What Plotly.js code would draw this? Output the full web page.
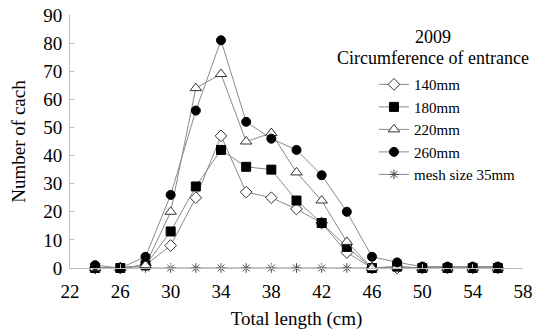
<!DOCTYPE html>
<html>
<head>
<meta charset="utf-8">
<script src="https://cdn.plot.ly/plotly-3.0.1.min.js"></script>
<style>html,body{margin:0;padding:0;background:#fff;}#chart{width:543px;height:333px;}</style>
</head>
<body>
<div id="chart"></div>
<script>
var lengths = [24, 26, 28, 30, 32, 34, 36, 38, 40, 42, 44, 46, 48, 50, 52, 54, 56];
var c140 = [0, 0, 1, 8, 25, 47, 27, 25, 21, 16, 5.5, 0, 0, 0, 0, 0, 0];
var c180 = [0, 0, 1, 13, 29, 42, 36, 35, 24, 16, 7.5, 0, 0.5, 0, 0, 0, 0];
var c220 = [0, 0, 1, 20, 64, 69, 45, 48, 34, 24, 9.3, 0, 0.5, 0, 0, 0, 0];
var c260 = [1, 0, 4, 26, 56, 81, 52, 46, 42, 33, 20, 4, 2, 0.5, 0.5, 0.5, 0.5];
var mesh35 = [0, 0, 0, 0, 0, 0, 0, 0, 0, 0, 0, 0, 0, 0, 0, 0, 0];
var seriesNames = ["140mm", "180mm", "220mm", "260mm", "mesh size 35mm"];
var xTicks = [22, 26, 30, 34, 38, 42, 46, 50, 54, 58];
var yTicks = [0, 10, 20, 30, 40, 50, 60, 70, 80, 90];

var FONT = "Liberation Serif";
var lineGray = "#8a8a8a";

function tr(y, name, rank, marker) {
  return {
    x: lengths, y: y, name: name, type: "scatter", mode: "lines+markers",
    legendrank: rank, cliponaxis: false,
    line: {color: lineGray, width: 1},
    marker: marker
  };
}

var data = [
  tr(mesh35, seriesNames[4], 5, {symbol: "asterisk-open", size: 8, color: "#444", line: {color: "#444", width: 1}}),
  tr(c140, seriesNames[0], 1, {symbol: "diamond", size: 9, color: "#fff", line: {color: "#333", width: 1}}),
  tr(c180, seriesNames[1], 2, {symbol: "square", size: 9, color: "#000", line: {color: "#000", width: 1}}),
  tr(c220, seriesNames[2], 3, {symbol: "triangle-up", size: 10, color: "#fff", line: {color: "#333", width: 1}}),
  tr(c260, seriesNames[3], 4, {symbol: "circle", size: 9, color: "#000", line: {color: "#000", width: 1}})
];

var layout = {
  width: 543, height: 333,
  margin: {l: 70, r: 20, t: 15, b: 65},
  paper_bgcolor: "#fff", plot_bgcolor: "#fff",
  font: {family: FONT, size: 18, color: "#000"},
  showlegend: true,
  legend: {
    x: 0.671, y: 0.79, xanchor: "left", yanchor: "top",
    font: {family: FONT, size: 15, color: "#000"},
    bgcolor: "rgba(0,0,0,0)", borderwidth: 0,
    tracegroupgap: 0
  },
  xaxis: {
    range: [22, 58], tickvals: xTicks, ticktext: xTicks.map(String),
    showgrid: false, zeroline: false,
    showline: true, linecolor: "#bdbdbd", linewidth: 1,
    ticks: "inside", ticklen: 4, tickcolor: "#bdbdbd",
    ticklabelstandoff: 6,
    tickfont: {family: FONT, size: 19, color: "#000"},
    title: {text: "Total length (cm)", font: {family: FONT, size: 19}, standoff: 10}
  },
  yaxis: {
    range: [0, 90], tickvals: yTicks, ticktext: yTicks.map(String),
    showgrid: false, zeroline: false,
    showline: true, linecolor: "#bdbdbd", linewidth: 1,
    ticks: "inside", ticklen: 4, tickcolor: "#bdbdbd",
    ticklabelstandoff: 3,
    tickfont: {family: FONT, size: 19, color: "#000"},
    title: {text: "Number of cach", font: {family: FONT, size: 19}, standoff: 12}
  },
  annotations: [
    {text: "2009", xref: "paper", yref: "paper", x: 0.801, y: 0.913, xanchor: "center", yanchor: "middle", showarrow: false, font: {family: FONT, size: 18}},
    {text: "Circumference of entrance", xref: "paper", yref: "paper", x: 0.801, y: 0.83, xanchor: "center", yanchor: "middle", showarrow: false, font: {family: FONT, size: 18}}
  ]
};

Plotly.newPlot("chart", data, layout, {staticPlot: true, displayModeBar: false});
</script>
</body>
</html>
